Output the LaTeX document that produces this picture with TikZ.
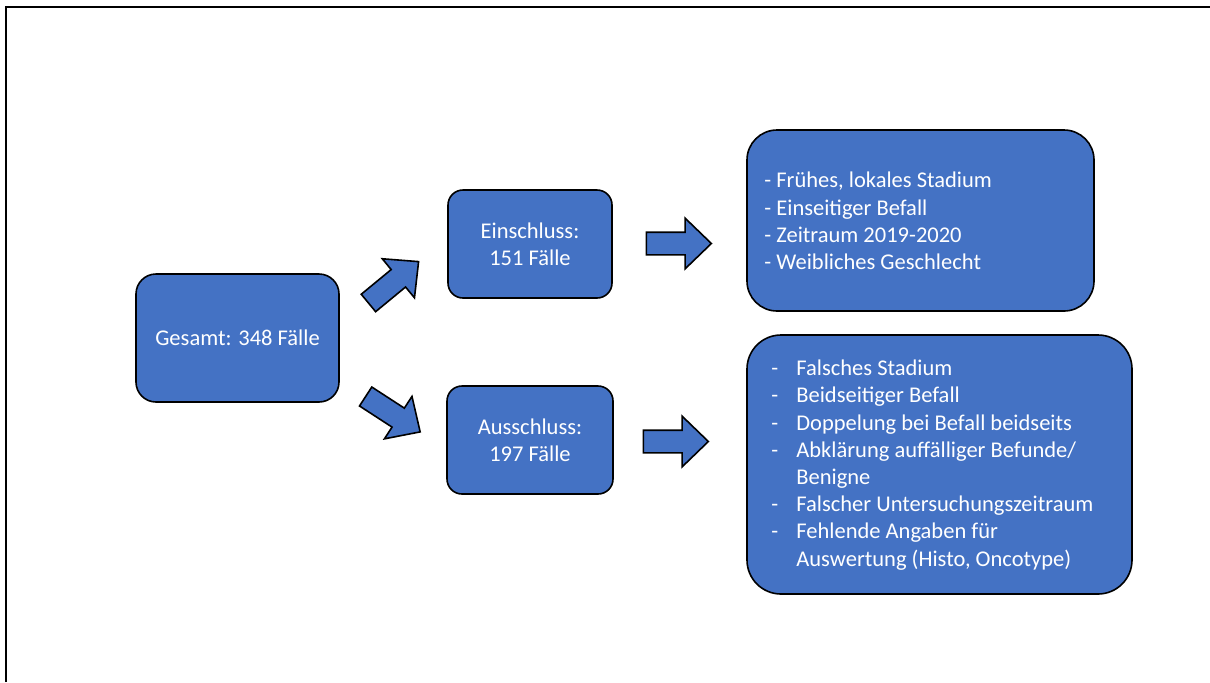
\documentclass[tikz,border=0pt]{standalone}
\usepackage{fontspec}
\setmainfont{Carlito}
\usetikzlibrary{shapes.arrows}
\definecolor{ofblue}{RGB}{68,114,196}
\begin{document}
\begin{tikzpicture}[x=0.5pt,y=-0.5pt,
  box/.style={draw=black, line width=0.8pt, fill=ofblue, text=white, inner sep=0pt, align=center},
  listtext/.style={anchor=west, text=white, align=left, inner sep=0pt},
  blockarrow/.style={single arrow, draw=black, line width=0.8pt, fill=ofblue,
    inner xsep=0pt, inner ysep=5.25pt, minimum height=32.5pt,
    single arrow head extend=7pt, single arrow tip angle=88},
  font=\fontsize{11.25}{13.6}\selectfont]
\useasboundingbox (0,0) rectangle (1210,682);
\draw[line width=1pt] (6,682) -- (6,7) -- (1210,7);

\node[box, rounded corners=10pt, minimum width=101.5pt, minimum height=64pt] (gesamt) at (237.5,338) {Gesamt: 348 Fälle};
\node[box, rounded corners=7.5pt, minimum width=82pt, minimum height=54pt] (ein) at (530,244) {Einschluss:\\151 Fälle};
\node[box, rounded corners=7.5pt, minimum width=83pt, minimum height=54pt] (aus) at (530,440) {Ausschluss:\\197 Fälle};
\node[box, rounded corners=15pt, minimum width=173.5pt, minimum height=90.5pt] (einbox) at (920.5,220.5) {};
\node[box, rounded corners=17pt, minimum width=192.5pt, minimum height=129.5pt] (ausbox) at (939.5,464.5) {};

\node[listtext] (einlist) at (764,221) {- Frühes, lokales Stadium\\- Einseitiger Befall\\- Zeitraum 2019-2020\\- Weibliches Geschlecht};
\node[listtext] (auslist) at (771,465) {%
\makebox[12.5pt][l]{-}Falsches Stadium\\
\makebox[12.5pt][l]{-}Beidseitiger Befall\\
\makebox[12.5pt][l]{-}Doppelung bei Befall beidseits\\
\makebox[12.5pt][l]{-}Abklärung auffälliger Befunde/\\
\hspace*{12.5pt}Benigne\\
\makebox[12.5pt][l]{-}Falscher Untersuchungszeitraum\\
\makebox[12.5pt][l]{-}Fehlende Angaben für\\
\hspace*{12.5pt}Auswertung (Histo, Oncotype)};

\node[blockarrow, rotate=39.5] (arrup) at (389,286) {};
\node[blockarrow, rotate=-33] (arrdown) at (388,411) {};
\node[blockarrow] (arrein) at (673,243.5) {};
\node[blockarrow] (arraus) at (670,441.5) {};
\end{tikzpicture}
\end{document}
